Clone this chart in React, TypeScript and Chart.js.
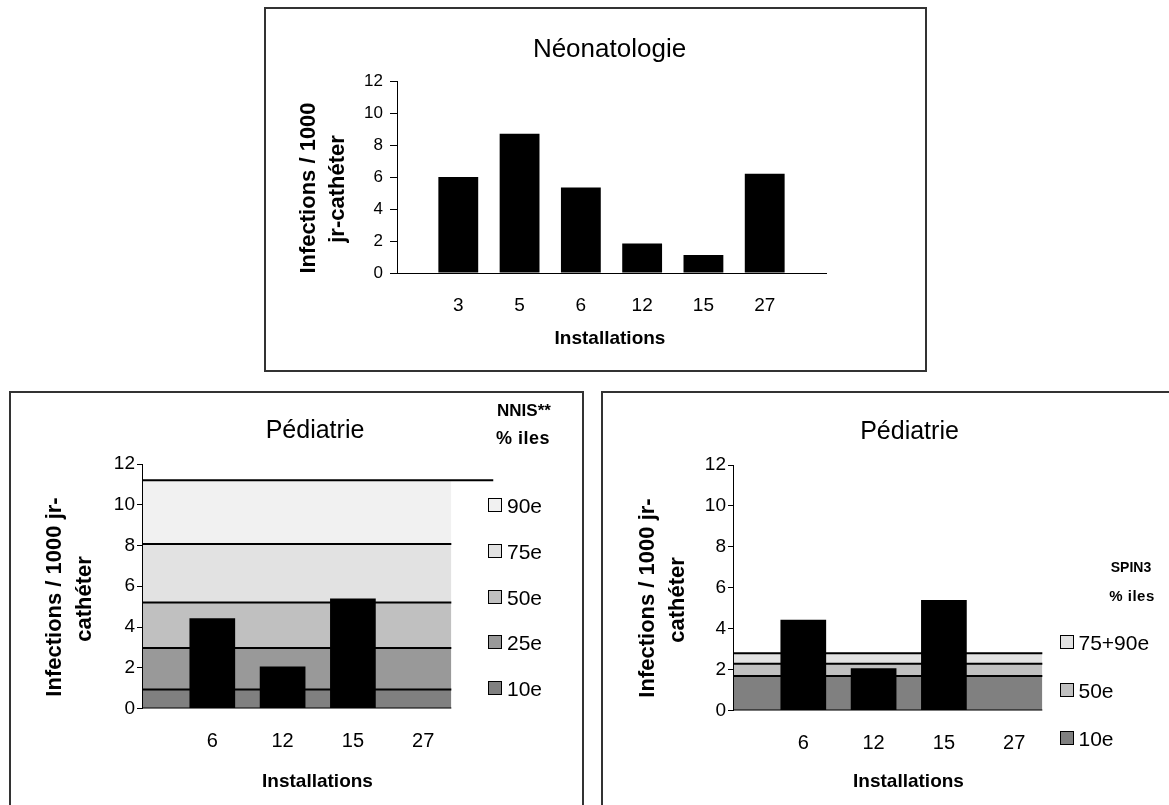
import React, { useEffect, useRef } from 'react';
import { Chart, registerables } from 'chart.js';

Chart.register(...registerables);

const FONT = "'Liberation Sans', Arial, Helvetica, sans-serif";

// ---------- data ----------
// Néonatologie
const neoCategories = ['3', '5', '6', '12', '15', '27'];
const neoValues = [6.0, 8.7, 5.35, 1.85, 1.12, 6.2];

// Pédiatrie (same data in both lower charts)
const pedCategories = ['6', '12', '15', '27'];
const pedValues: (number | null)[] = [4.43, 2.06, 5.4, null];

// NNIS percentiles (upper limit of each band, top to bottom)
const nnisLabels = ['90e', '75e', '50e', '25e', '10e'];
const nnisValues = [11.2, 8.07, 5.2, 2.97, 0.93];
const nnisColors = ['#f1f1f1', '#e2e2e2', '#c0c0c0', '#999999', '#808080'];

// SPIN3 percentiles (upper limit of each band, top to bottom)
const spinLabels = ['75+90e', '50e', '10e'];
const spinValues = [2.8, 2.28, 1.69];
const spinColors = ['#e2e2e2', '#c0c0c0', '#808080'];

const yMax = 12;
const yStep = 2;
const bandEnd = 4.4; // x extent of the percentile bands (category units)

// ---------- helpers ----------
const flat = (y: number, xEnd: number) => [
  { x: 0, y },
  { x: xEnd, y },
];

function yScale(fontSize: number, tickLen: number, pad: number) {
  return {
    min: 0,
    max: yMax,
    ticks: { stepSize: yStep, color: '#000', font: { family: FONT, size: fontSize }, padding: pad },
    grid: {
      drawOnChartArea: false,
      drawTicks: true,
      tickLength: tickLen,
      color: '#000',
      tickColor: '#000',
      lineWidth: 1,
    },
    border: { display: true, color: '#000', width: 1, z: 1 },
    afterFit: (s: any) => {
      s.width = 80;
    },
  };
}

function xScale(labels: string[], max: number, fontSize: number, pad: number, border: boolean) {
  return {
    type: 'linear',
    min: 0,
    max,
    offset: false,
    ticks: {
      stepSize: 1,
      autoSkip: false,
      maxRotation: 0,
      minRotation: 0,
      color: '#000',
      font: { family: FONT, size: fontSize },
      padding: pad,
      callback: (v: any) => labels[Math.round(Number(v)) - 1] ?? '',
    },
    grid: { display: false, drawTicks: false, offset: false },
    border: { display: border, color: '#000', width: 1, z: 1 },
    afterFit: (s: any) => {
      s.height = 60;
    },
  };
}

function barDataset(cats: string[], vals: (number | null)[]) {
  return {
    type: 'bar',
    data: cats.map((c, i) => ({ x: i + 1, y: vals[i] })),
    backgroundColor: '#000',
    borderWidth: 0,
    barPercentage: 0.65,
    categoryPercentage: 1,
  };
}

function bandDatasets(values: number[], colors: string[], startIndex: number, topBorder: boolean) {
  const n = values.length;
  const ds: any[] = [];
  for (let j = n - 1; j >= 0; j--) {
    const idx = startIndex + (n - 1 - j);
    ds.push({
      type: 'line',
      data: flat(values[j], bandEnd),
      borderColor: '#000',
      borderWidth: j === 0 && !topBorder ? 0 : 2,
      pointRadius: 0,
      tension: 0,
      backgroundColor: colors[j],
      fill: j === n - 1 ? 'origin' : idx - 1,
    });
  }
  return ds;
}

const baseOptions = (padding: any, scales: any) => ({
  animation: false,
  responsive: true,
  maintainAspectRatio: false,
  layout: { padding },
  plugins: { legend: { display: false }, tooltip: { enabled: false }, title: { display: false } },
  scales,
});

const W = 1169;
const H = 805;

function neoConfig(): any {
  return {
    type: 'bar',
    data: { datasets: [barDataset(neoCategories, neoValues)] },
    options: baseOptions(
      { left: 397 - 80, top: 81, right: W - 826, bottom: H - 273 - 60 },
      { x: xScale(neoCategories, neoCategories.length + 1, 19, 21.3, true), y: yScale(17, 7, 7) }
    ),
  };
}

function nnisConfig(): any {
  return {
    type: 'bar',
    data: {
      datasets: [
        barDataset(pedCategories, pedValues),
        { type: 'line', data: flat(0, bandEnd), borderColor: '#000', borderWidth: 2, pointRadius: 0, fill: false },
        { type: 'line', data: flat(nnisValues[0], pedCategories.length + 1), borderColor: '#000', borderWidth: 2, pointRadius: 0, fill: false },
        ...bandDatasets(nnisValues, nnisColors, 3, false),
      ],
    },
    options: baseOptions(
      { left: 142 - 80, top: 464, right: W - 493.5, bottom: H - 708.5 - 60 },
      { x: xScale(pedCategories, pedCategories.length + 1, 20, 21.2, false), y: yScale(19, 5, 2) }
    ),
  };
}

function spinConfig(): any {
  return {
    type: 'bar',
    data: {
      datasets: [
        barDataset(pedCategories, pedValues),
        { type: 'line', data: flat(0, bandEnd), borderColor: '#000', borderWidth: 2, pointRadius: 0, fill: false },
        ...bandDatasets(spinValues, spinColors, 2, true),
      ],
    },
    options: baseOptions(
      { left: 733 - 80, top: 465, right: W - 1084.5, bottom: H - 710.5 - 60 },
      { x: xScale(pedCategories, pedCategories.length + 1, 20, 20.8, false), y: yScale(19, 5, 2) }
    ),
  };
}

// ---------- components ----------
function ChartLayer({ make }: { make: () => any }) {
  const ref = useRef<HTMLCanvasElement>(null);
  useEffect(() => {
    const chart = new Chart(ref.current as HTMLCanvasElement, make());
    return () => chart.destroy();
  }, []);
  return (
    <div style={{ position: 'absolute', left: 0, top: 0, width: W, height: H }}>
      <canvas ref={ref} />
    </div>
  );
}

function Box({ left, top, width, height }: any) {
  return (
    <div
      style={{
        position: 'absolute',
        left,
        top,
        width,
        height,
        boxSizing: 'border-box',
        border: '2px solid #333',
      }}
    />
  );
}

function Txt({ x, y, size, bold, rot, anchor, ls, children }: any) {
  const tx = anchor === 'left' ? '0' : '-50%';
  return (
    <div
      style={{
        position: 'absolute',
        left: x,
        top: y,
        fontFamily: FONT,
        fontSize: size,
        fontWeight: bold ? 700 : 400,
        lineHeight: 1,
        whiteSpace: 'nowrap',
        color: '#000',
        letterSpacing: ls,
        transform: `translate(${tx}, -50%)${rot ? ' rotate(-90deg)' : ''}`,
      }}
    >
      {children}
    </div>
  );
}

function Legend({ labels, colors, boxX, textX, y0, dy, size }: any) {
  return (
    <>
      {labels.map((l: string, i: number) => (
        <React.Fragment key={l}>
          <div
            style={{
              position: 'absolute',
              left: boxX,
              top: y0 + i * dy - 7,
              width: 14,
              height: 14,
              boxSizing: 'border-box',
              border: '1px solid #000',
              background: colors[i],
            }}
          />
          <Txt x={textX} y={y0 + i * dy} size={size} anchor="left">
            {l}
          </Txt>
        </React.Fragment>
      ))}
    </>
  );
}

export default function App() {
  return (
    <div
      style={{
        position: 'fixed',
        left: 0,
        top: 0,
        width: W,
        height: H,
        overflow: 'hidden',
        background: '#fff',
      }}
    >
      <Box left={264} top={7} width={663} height={365} />
      <Box left={9} top={391} width={575} height={500} />
      <Box left={601} top={391} width={700} height={500} />

      <ChartLayer make={neoConfig} />
      <ChartLayer make={nnisConfig} />
      <ChartLayer make={spinConfig} />

      {/* Néonatologie */}
      <Txt x={609.5} y={47.7} size={26}>Néonatologie</Txt>
      <Txt x={308.3} y={187.5} size={22} bold rot>Infections / 1000</Txt>
      <Txt x={336.7} y={189} size={22} bold rot>jr-cathéter</Txt>
      <Txt x={610} y={337.3} size={19} bold>Installations</Txt>

      {/* Pédiatrie NNIS */}
      <Txt x={315} y={429} size={25}>Pédiatrie</Txt>
      <Txt x={53.6} y={596.7} size={22} bold rot>Infections / 1000 jr-</Txt>
      <Txt x={84} y={599} size={22} bold rot>cathéter</Txt>
      <Txt x={317.5} y={780} size={19} bold>Installations</Txt>
      <Txt x={524} y={410} size={17} bold>NNIS**</Txt>
      <Txt x={523} y={438} size={18} bold ls={0.5}>% iles</Txt>
      <Legend labels={nnisLabels} colors={nnisColors} boxX={487.5} textX={507} y0={505} dy={45.8} size={21} />

      {/* Pédiatrie SPIN3 */}
      <Txt x={909.5} y={430} size={25}>Pédiatrie</Txt>
      <Txt x={647.4} y={598} size={22} bold rot>Infections / 1000 jr-</Txt>
      <Txt x={676.8} y={600} size={22} bold rot>cathéter</Txt>
      <Txt x={908.5} y={780} size={19} bold>Installations</Txt>
      <Txt x={1131} y={567} size={14} bold>SPIN3</Txt>
      <Txt x={1132} y={595} size={15} bold ls={0.5}>% iles</Txt>
      <Legend labels={spinLabels} colors={spinColors} boxX={1060} textX={1078.5} y0={642.3} dy={47.9} size={21} />
    </div>
  );
}
